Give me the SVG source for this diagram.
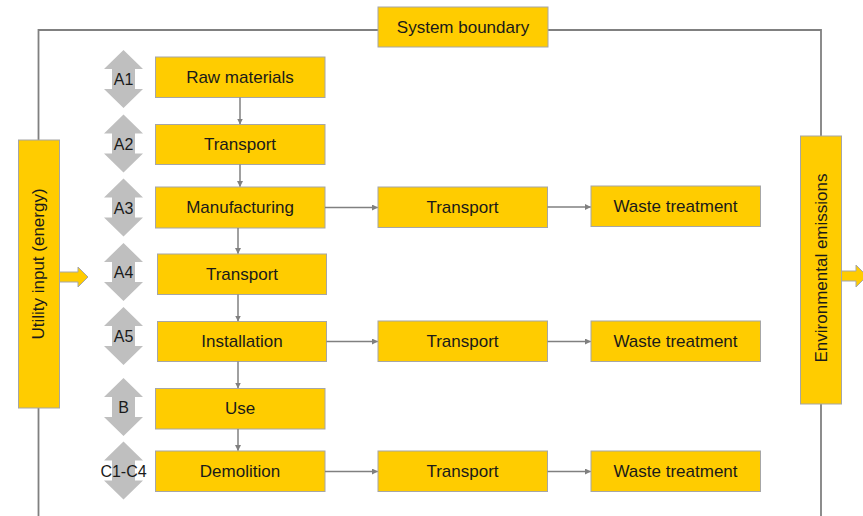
<svg xmlns="http://www.w3.org/2000/svg" width="863" height="516" viewBox="0 0 863 516">
<style>
.box{fill:#FFCC00;stroke:#A6A6A6;stroke-width:1}
.t{font-family:"Liberation Sans",Arial,sans-serif;font-size:17px;fill:#1a1a1a;text-anchor:middle}
.lab{font-family:"Liberation Sans",Arial,sans-serif;font-size:16px;fill:#1a1a1a;text-anchor:middle}
.con{stroke:#808080;stroke-width:1.5;fill:none}
.bnd{stroke:#808080;stroke-width:1.8;fill:none}
.dbl{fill:#BFBFBF}
</style>
<defs>
<marker id="ah" markerWidth="6" markerHeight="6" refX="5.5" refY="3" orient="auto" markerUnits="userSpaceOnUse">
<path d="M0,0 L6,3 L0,6 Z" fill="#808080"/>
</marker>
<path id="darr" d="M0,0 L19.5,19 L11.5,19 L11.5,39 L19.5,39 L0,58 L-19.5,39 L-11.5,39 L-11.5,19 L-19.5,19 Z"/>
</defs>
<rect width="863" height="516" fill="#FFFFFF"/>

<g id="boundary">
<path class="bnd" d="M38.5,140 V30 H378"/>
<path class="bnd" d="M548,30 H821 V136"/>
<path class="bnd" d="M821,404 V516"/>
<path class="bnd" d="M38.5,408 V516"/>
</g>

<g id="system-boundary">
<rect class="box" x="378" y="7" width="170" height="40"/>
<text class="t" x="463" y="33">System boundary</text>
</g>

<g id="utility-input">
<rect class="box" x="18.5" y="140" width="41" height="268"/>
<text class="t" transform="translate(44,264) rotate(-90)" x="0" y="0">Utility input (energy)</text>
<path class="box" d="M59.5,272 L78,272 L78,267 L88,277 L78,287 L78,282 L59.5,282 Z" stroke-width="0.8"/>
</g>

<g id="environmental-emissions">
<rect class="box" x="800.5" y="136" width="41" height="268"/>
<text class="t" transform="translate(826.5,268) rotate(-90)" x="0" y="0">Environmental emissions</text>
<path class="box" d="M841.5,271 L856,271 L856,265 L867,276 L856,287 L856,281 L841.5,281 Z" stroke-width="0.8"/>
</g>

<g id="stage-arrows">
<use href="#darr" class="dbl" x="123.5" y="50"/>
<text class="lab" x="123.5" y="85">A1</text>
<use href="#darr" class="dbl" x="123.5" y="114.5"/>
<text class="lab" x="123.5" y="149.5">A2</text>
<use href="#darr" class="dbl" x="123.5" y="178.5"/>
<text class="lab" x="123.5" y="213.5">A3</text>
<use href="#darr" class="dbl" x="123.5" y="243"/>
<text class="lab" x="123.5" y="278">A4</text>
<use href="#darr" class="dbl" x="123.5" y="307"/>
<text class="lab" x="123.5" y="342">A5</text>
<use href="#darr" class="dbl" x="123.5" y="378"/>
<text class="lab" x="123.5" y="413">B</text>
<use href="#darr" class="dbl" x="123.5" y="441.5"/>
<text class="lab" x="123.5" y="476.5">C1-C4</text>
</g>

<g id="raw-materials">
<rect class="box" x="155.5" y="57" width="169.5" height="40.5"/>
<text class="t" x="240" y="83">Raw materials</text>
</g>
<g id="transport-a2">
<rect class="box" x="155.5" y="124.5" width="169.5" height="40"/>
<text class="t" x="240" y="150">Transport</text>
</g>
<g id="manufacturing">
<rect class="box" x="155.5" y="187" width="169.5" height="41"/>
<text class="t" x="240" y="213">Manufacturing</text>
</g>
<g id="transport-a4">
<rect class="box" x="157.5" y="254" width="169" height="40.5"/>
<text class="t" x="242" y="280">Transport</text>
</g>
<g id="installation">
<rect class="box" x="157.5" y="321.5" width="169" height="40"/>
<text class="t" x="242" y="347">Installation</text>
</g>
<g id="use">
<rect class="box" x="155.5" y="388.5" width="169.5" height="40.5"/>
<text class="t" x="240" y="414">Use</text>
</g>
<g id="demolition">
<rect class="box" x="155.5" y="451" width="169.5" height="40.5"/>
<text class="t" x="240" y="477">Demolition</text>
</g>

<g id="transport-r1">
<rect class="box" x="378" y="187" width="169.5" height="40.5"/>
<text class="t" x="462.5" y="213">Transport</text>
</g>
<g id="waste-r1">
<rect class="box" x="591" y="186" width="169.5" height="40.5"/>
<text class="t" x="675.5" y="212">Waste treatment</text>
</g>
<g id="transport-r2">
<rect class="box" x="378" y="321" width="169.5" height="40.5"/>
<text class="t" x="462.5" y="347">Transport</text>
</g>
<g id="waste-r2">
<rect class="box" x="591" y="321" width="169.5" height="40.5"/>
<text class="t" x="675.5" y="347">Waste treatment</text>
</g>
<g id="transport-r3">
<rect class="box" x="378" y="451" width="169.5" height="40.5"/>
<text class="t" x="462.5" y="477">Transport</text>
</g>
<g id="waste-r3">
<rect class="box" x="591" y="451" width="169.5" height="40.5"/>
<text class="t" x="675.5" y="477">Waste treatment</text>
</g>

<g id="connectors">
<line class="con" x1="240" y1="97.5" x2="240" y2="124" marker-end="url(#ah)"/>
<line class="con" x1="240" y1="164.5" x2="240" y2="186.5" marker-end="url(#ah)"/>
<line class="con" x1="238" y1="228" x2="238" y2="253.5" marker-end="url(#ah)"/>
<line class="con" x1="238" y1="294.5" x2="238" y2="321" marker-end="url(#ah)"/>
<line class="con" x1="238" y1="361.5" x2="238" y2="388" marker-end="url(#ah)"/>
<line class="con" x1="238" y1="429" x2="238" y2="450.5" marker-end="url(#ah)"/>
<line class="con" x1="325" y1="207.5" x2="377.5" y2="207.5" marker-end="url(#ah)"/>
<line class="con" x1="547.5" y1="207" x2="590.5" y2="207" marker-end="url(#ah)"/>
<line class="con" x1="326.5" y1="341.5" x2="377.5" y2="341.5" marker-end="url(#ah)"/>
<line class="con" x1="547.5" y1="341.5" x2="590.5" y2="341.5" marker-end="url(#ah)"/>
<line class="con" x1="325" y1="471.5" x2="377.5" y2="471.5" marker-end="url(#ah)"/>
<line class="con" x1="547.5" y1="471.5" x2="590.5" y2="471.5" marker-end="url(#ah)"/>
</g>
</svg>
